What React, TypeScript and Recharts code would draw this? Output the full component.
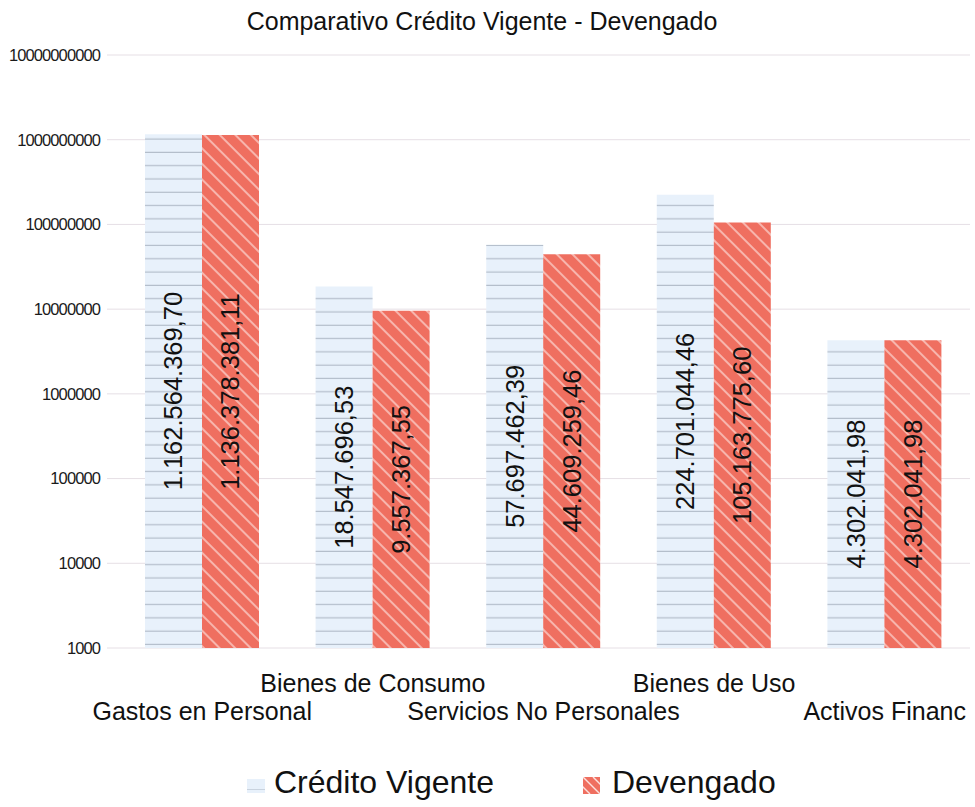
import React from "react";
import { BarChart, Bar, XAxis, YAxis, CartesianGrid, Legend, LabelList } from "recharts";

const categories = ["Gastos en Personal", "Bienes de Consumo", "Servicios No Personales", "Bienes de Uso", "Activos Financ"];
const creditoVigente = [1162564369.7, 18547696.53, 57697462.39, 224701044.46, 4302041.98];
const devengado = [1136378381.11, 9557367.55, 44609259.46, 105163775.6, 4302041.98];
const yTicks = [1000, 10000, 100000, 1000000, 10000000, 100000000, 1000000000, 10000000000];

const data = categories.map((name, i) => ({ name, credito: creditoVigente[i], devengado: devengado[i] }));

const FONT = '"Liberation Sans", Arial, sans-serif';
const GRID = "#e6dfe5";
const CRED_BG = "#e8f1fb";
const CRED_LINE = "#a9b3c1";
const DEV_BG = "#ef6f60";

function fmt(v: number) {
  const [int, dec] = v.toFixed(2).split(".");
  return int.replace(/\B(?=(\d{3})+(?!\d))/g, ".") + "," + dec;
}

function BarValue(props: any) {
  const { x, y, width, height, value } = props;
  const cx = x + width / 2;
  const cy = y + height / 2;
  return (
    <text x={cx} y={cy} transform={`rotate(-90 ${cx} ${cy})`} textAnchor="middle" dominantBaseline="central"
      fontSize={25.5} fill="#111" fontFamily={FONT}>
      {fmt(Number(value))}
    </text>
  );
}

function CategoryTick(props: any) {
  const { x, y, payload } = props;
  const idx = categories.indexOf(payload.value);
  const dy = idx % 2 === 0 ? 72 : 44;
  return (
    <text x={x} y={y + dy} textAnchor="middle" fontSize={25} fill="#111" fontFamily={FONT}>
      {payload.value}
    </text>
  );
}

function LegendContent() {
  return (
    <div style={{ position: "relative", width: 975, height: 60, fontFamily: FONT, fontSize: 32, color: "#111", lineHeight: "normal" }}>
      <svg style={{ position: "absolute", left: 247, top: 32 }} width={18} height={14}>
        <rect width={18} height={14} fill={CRED_BG} />
        <line x1={0} x2={18} y1={10.5} y2={10.5} stroke="#c9d3df" />
      </svg>
      <span style={{ position: "absolute", left: 274, top: 17, whiteSpace: "nowrap" }}>Crédito Vigente</span>
      <svg style={{ position: "absolute", left: 583, top: 30 }} width={17} height={17}>
        <rect width={17} height={17} fill={DEV_BG} />
        <line x1={0} y1={0} x2={17} y2={17} stroke="#fff" strokeOpacity={0.8} strokeWidth={1.4} />
        <line x1={-8} y1={2} x2={7} y2={17} stroke="#fff" strokeOpacity={0.8} strokeWidth={1.4} />
        <line x1={10} y1={0} x2={27} y2={17} stroke="#fff" strokeOpacity={0.8} strokeWidth={1.4} />
      </svg>
      <span style={{ position: "absolute", left: 612, top: 17, whiteSpace: "nowrap" }}>Devengado</span>
    </div>
  );
}

export default function App() {
  return (
    <div style={{ position: "absolute", left: 0, top: 0, width: 975, height: 807, background: "#fff", fontFamily: FONT }}>
      <div style={{ position: "absolute", left: 0, top: 7, width: 964, textAlign: "center", fontSize: 25, color: "#111", lineHeight: "normal" }}>
        Comparativo Crédito Vigente - Devengado
      </div>
      <BarChart width={975} height={807} data={data} margin={{ top: 55, right: 5, bottom: 0, left: 0 }} barGap={0} barSize={57}>
        <defs>
          <pattern id="credPattern" patternUnits="userSpaceOnUse" width={20} height={13.3}>
            <rect width={20} height={13.3} fill={CRED_BG} />
            <line x1={0} x2={20} y1={6} y2={6} stroke={CRED_LINE} strokeWidth={1} />
          </pattern>
          <pattern id="devPattern" patternUnits="userSpaceOnUse" width={11} height={11} patternTransform="rotate(-45)">
            <rect width={11} height={11} fill={DEV_BG} />
            <line x1={5} x2={5} y1={0} y2={11} stroke="#fff" strokeOpacity={0.75} strokeWidth={1.3} />
          </pattern>
        </defs>
        <CartesianGrid vertical={false} stroke={GRID} />
        <XAxis dataKey="name" axisLine={false} tickLine={false} tickSize={0} tickMargin={0} height={99} interval={0}
          tick={<CategoryTick />} />
        <YAxis scale="log" domain={[1000, 10000000000]} ticks={yTicks} allowDataOverflow width={117}
          axisLine={false} tickLine={{ stroke: GRID }} tickSize={10} tickMargin={7}
          tick={{ fontSize: 16.5, fill: "#1a1a1a", fontFamily: FONT, letterSpacing: -0.9 }}
          tickFormatter={(v) => String(v)} />
        <Legend verticalAlign="bottom" content={<LegendContent />} wrapperStyle={{ height: 60 }} />
        <Bar dataKey="credito" name="Crédito Vigente" fill="url(#credPattern)" isAnimationActive={false}>
          <LabelList dataKey="credito" content={<BarValue />} />
        </Bar>
        <Bar dataKey="devengado" name="Devengado" fill="url(#devPattern)" isAnimationActive={false}>
          <LabelList dataKey="devengado" content={<BarValue />} />
        </Bar>
      </BarChart>
    </div>
  );
}
